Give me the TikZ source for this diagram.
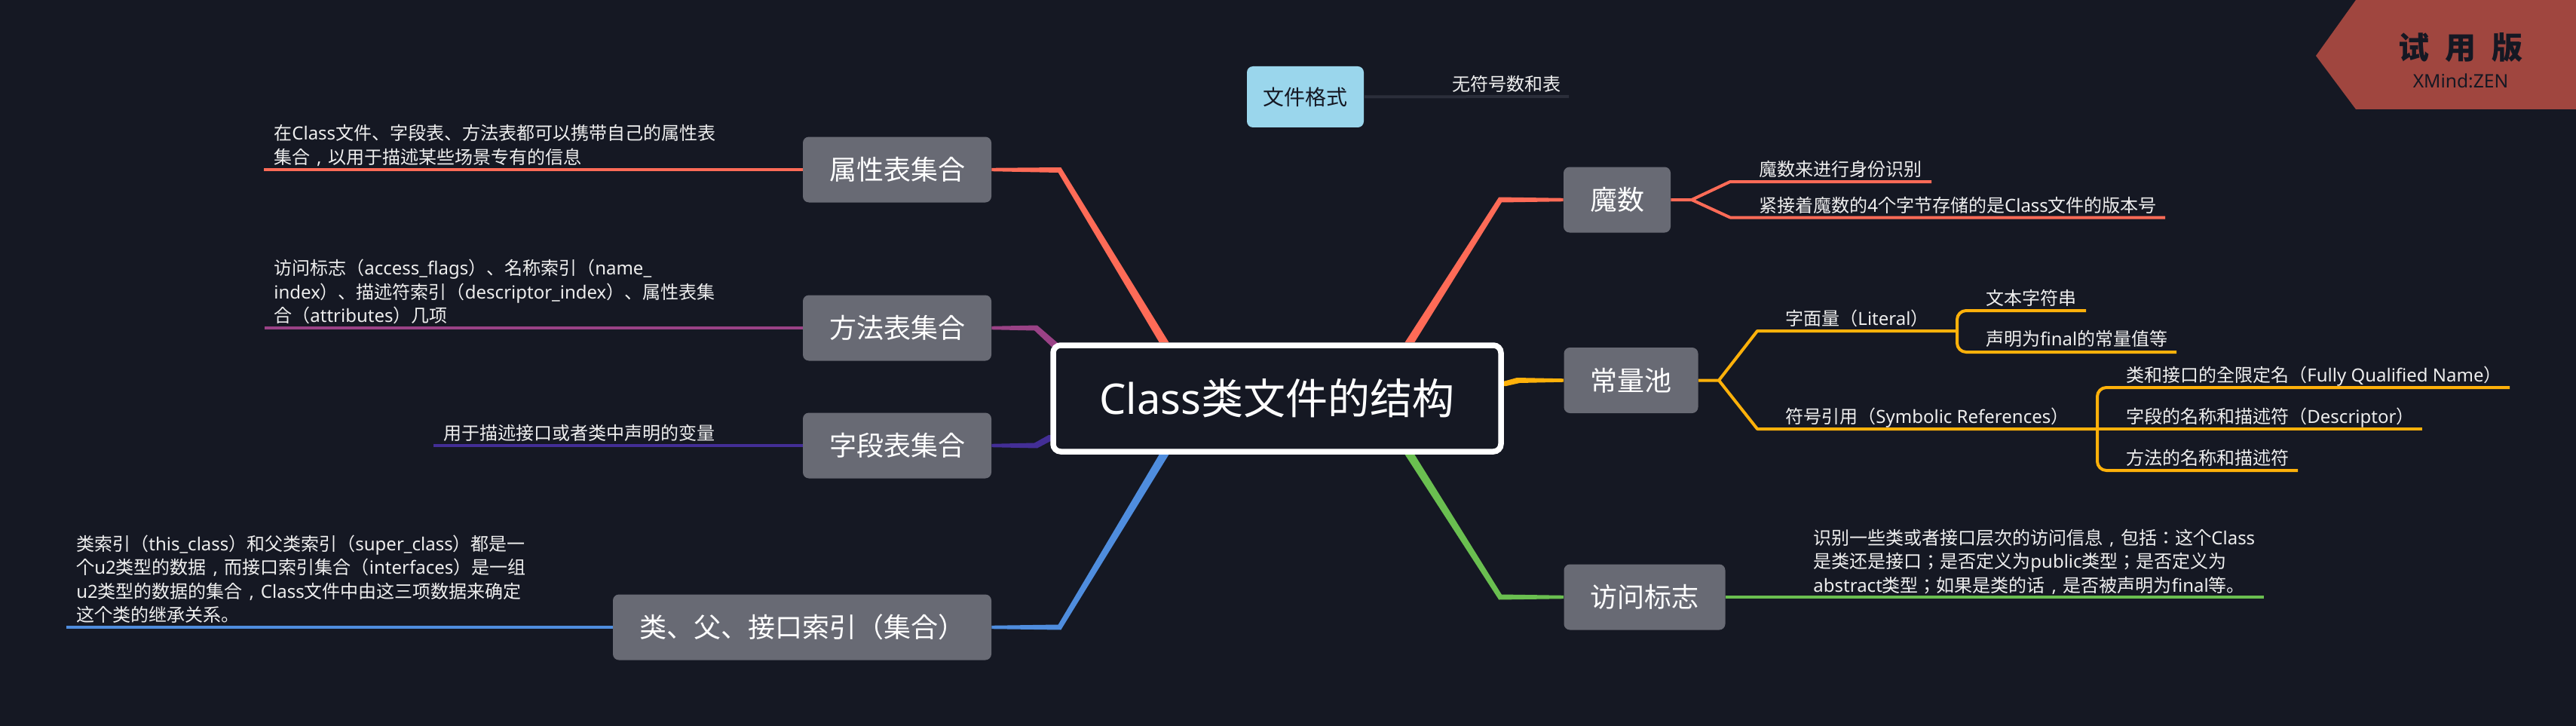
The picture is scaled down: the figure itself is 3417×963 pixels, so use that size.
\documentclass[tikz,border=0pt]{standalone}
\usepackage{fontspec}
\usepackage{xcolor}
\usetikzlibrary{calc}
\setmainfont{Noto Sans CJK KR}
\newfontfamily\latfont{Noto Sans}
\newcommand{\lat}[1]{{\latfont #1}}
% comma in the middle of a full em
\newcommand{\fc}{\makebox[1em][c]{\lat{,}}}
\definecolor{bgcol}{HTML}{151823}
\definecolor{boxcol}{HTML}{686A74}
\definecolor{redcol}{HTML}{FF6B57}
\definecolor{purplecol}{HTML}{9A4286}
\definecolor{indigocol}{HTML}{432E96}
\definecolor{bluecol}{HTML}{4F8DDE}
\definecolor{greencol}{HTML}{6ABF50}
\definecolor{yellowcol}{HTML}{FFB10A}
\definecolor{skycol}{HTML}{9AD6EC}
\definecolor{darkline}{HTML}{2B2E3A}
\definecolor{wmcol}{HTML}{A0463F}
\definecolor{leafcol}{HTML}{EEEEEE}
% tapered main branch: colour, start, knee, end, side, half width
\newcommand{\mainbranch}[6]{\fill[#1] ($(#2)+(-#6,0)$) -- ($(#3)+(-1.8,-#5*3.5)$) -- ($(#4)+(0,-#5*2.2)$) -- ($(#4)+(0,#5*2.2)$) -- ($(#3)+(1.8,#5*3.5)$) -- ($(#2)+(#6,0)$) -- cycle;}
\tikzset{
 topicbox/.style={fill=boxcol,text=white,rounded corners=4pt,inner xsep=17.5pt,inner ysep=0pt,minimum height=43.5pt,font=\fontsize{18}{22}\selectfont},
 leaf/.style={anchor=west,inner sep=0pt,text=leafcol,align=left,font=\fontsize{12}{15.75}\selectfont},
 oneline/.style={leaf,text height=10pt,text depth=1pt},
 wire/.style={line width=2pt,line join=round}
}
\begin{document}
\begin{tikzpicture}[x=0.5pt,y=-0.5pt]
 \fill[bgcol] (0,0) rectangle (3417,963);

 % watermark
 \fill[wmcol] (3072,74) -- (3125,0) -- (3417,0) -- (3417,145) -- (3125,145) -- cycle;
 \node[inner sep=0pt,text=bgcol,font=\fontsize{20.5}{24}\selectfont\bfseries] (wmtitle) at (3264,63) {试\hspace{10.5pt}用\hspace{10.5pt}版};
 \node[inner sep=0pt,text=bgcol,font=\fontsize{12.3}{14}\selectfont\latfont] (wmname) at (3264,107) {XMind:ZEN};

 % second level boxes
 \node[topicbox] (attrbox) at (1190,225) {属性表集合};
 \node[topicbox] (methodbox) at (1190,435) {方法表集合};
 \node[topicbox] (fieldbox) at (1190,591) {字段表集合};
 \node[topicbox] (classbox) at (1064,832) {类、父、接口索引（集合）};
 \node[topicbox] (magicbox) at (2145,265) {魔数};
 \node[topicbox] (constbox) at (2163.5,504.5) {常量池};
 \node[topicbox] (accessbox) at (2181.5,792) {访问标志};
 \node[fill=skycol,text=bgcol,rounded corners=4pt,minimum width=77.5pt,minimum height=40.5pt,inner sep=0pt,font=\fontsize{14}{17}\selectfont] (formatbox) at (1731.5,128.5) {文件格式};

 % branch points
 \coordinate (attrroot) at (1544,454);
 \coordinate (attrknee) at (1405.5,225.5);
 \coordinate (methodroot) at (1402,460);
 \coordinate (methodknee) at (1374,435);
 \coordinate (fieldroot) at (1400,577);
 \coordinate (fieldknee) at (1374,591);
 \coordinate (classroot) at (1544,603);
 \coordinate (classknee) at (1405.5,832);
 \coordinate (magicroot) at (1870,454);
 \coordinate (magicknee) at (1990,265);
 \coordinate (constroot) at (1985,512);
 \coordinate (constknee) at (2014,504.5);
 \coordinate (accessroot) at (1870,603);
 \coordinate (accessknee) at (1990,792);

 \mainbranch{redcol}{attrroot}{attrknee}{attrbox.east}{-1}{6.4}
 \mainbranch{purplecol}{methodroot}{methodknee}{methodbox.east}{-1}{7}
 \mainbranch{indigocol}{fieldroot}{fieldknee}{fieldbox.east}{1}{9}
 \mainbranch{bluecol}{classroot}{classknee}{classbox.east}{1}{6.4}
 \mainbranch{redcol}{magicroot}{magicknee}{magicbox.west}{1}{6.4}
 \mainbranch{yellowcol}{constroot}{constknee}{constbox.west}{1}{13}
 \mainbranch{greencol}{accessroot}{accessknee}{accessbox.west}{-1}{6.4}

 % central topic
 \node[draw=white,line width=3.75pt,fill=bgcol,text=white,rounded corners=5pt,minimum width=297pt,minimum height=70.5pt,inner sep=0pt,font=\fontsize{28}{34}\selectfont] (root) at (1694,528.5) {\lat{Class}类文件的结构};

 % left leaves
 \coordinate (attrend) at (350,225);
 \coordinate (methodend) at (351,435);
 \coordinate (fieldend) at (575,591);
 \coordinate (classend) at (88,832);
 \draw[wire,redcol] (attrbox.west) -- (attrend);
 \draw[wire,purplecol] (methodbox.west) -- (methodend);
 \draw[wire,indigocol] (fieldbox.west) -- (fieldend);
 \draw[wire,bluecol] (classbox.west) -- (classend);
 \node[leaf] (attrtext) at (363,193) {在\lat{Class}文件、字段表、方法表都可以携带自己的属性表\\集合\fc 以用于描述某些场景专有的信息};
 \node[leaf] (methodtext) at (363,387) {访问标志（\lat{access\_flags}）、名称索引（\lat{name\_}\\\lat{index}）、描述符索引（\lat{descriptor\_index}）、属性表集\\合（\lat{attributes}）几项};
 \node[oneline] (fieldtext) at (588,574) {用于描述接口或者类中声明的变量};
 \node[leaf] (classtext) at (101,768) {类索引（\lat{this\_class}）和父类索引（\lat{super\_class}）都是一\\个\lat{u2}类型的数据\fc 而接口索引集合（\lat{interfaces}）是一组\\\lat{u2}类型的数据的集合\fc \lat{Class}文件中由这三项数据来确定\\这个类的继承关系。};

 % file format leaf
 \coordinate (formatend) at (2081,128);
 \draw[wire,darkline] (formatbox.east) -- (formatend);
 \node[oneline] (formattext) at (1926,111) {无符号数和表};

 % magic leaves
 \coordinate (magicfork) at (2244,265);
 \coordinate (idknee) at (2295,241);
 \coordinate (idend) at (2562,241);
 \coordinate (verknee) at (2295,288.5);
 \coordinate (verend) at (2872,288.5);
 \draw[wire,redcol] (magicbox.east) -- (magicfork) -- (idknee) -- (idend);
 \draw[wire,redcol] (magicfork) -- (verknee) -- (verend);
 \node[oneline] (idtext) at (2333,224) {魔数来进行身份识别};
 \node[oneline] (vertext) at (2333,272) {紧接着魔数的\lat{4}个字节存储的是\lat{Class}文件的版本号};

 % constant pool leaves
 \coordinate (constfork) at (2280,504.5);
 \coordinate (litknee) at (2331,439);
 \coordinate (litbar) at (2596,439);
 \coordinate (symknee) at (2331,569);
 \coordinate (symbar) at (2782,569);
 \draw[wire,yellowcol] (constbox.east) -- (constfork) -- (litknee) -- (litbar);
 \draw[wire,yellowcol] (constfork) -- (symknee) -- (symbar);
 \node[oneline] (littext) at (2368,422) {字面量（\lat{Literal}）};
 \node[oneline] (symtext) at (2368,552) {符号引用（\lat{Symbolic References}）};

 \coordinate (strend) at (2767,412);
 \coordinate (finalend) at (2887,467);
 \draw[wire,yellowcol,rounded corners=6pt] (litbar) |- (strend);
 \draw[wire,yellowcol,rounded corners=6pt] (litbar) |- (finalend);
 \node[oneline] (strtext) at (2634,395) {文本字符串};
 \node[oneline] (finaltext) at (2634,449) {声明为\lat{final}的常量值等};

 \coordinate (fullend) at (3329,514);
 \coordinate (descend) at (3213,569);
 \coordinate (mtdend) at (3048,624);
 \draw[wire,yellowcol,rounded corners=6pt] (symbar) |- (fullend);
 \draw[wire,yellowcol] (symbar) -- (descend);
 \draw[wire,yellowcol,rounded corners=6pt] (symbar) |- (mtdend);
 \node[oneline] (fulltext) at (2820,497) {类和接口的全限定名（\lat{Fully Qualified Name}）};
 \node[oneline] (desctext) at (2820,552) {字段的名称和描述符（\lat{Descriptor}）};
 \node[oneline] (mtdtext) at (2820,607) {方法的名称和描述符};

 % access flags leaf
 \coordinate (accessend) at (3003,792);
 \draw[wire,greencol] (accessbox.east) -- (accessend);
 \node[leaf] (accesstext) at (2405,745) {识别一些类或者接口层次的访问信息\fc 包括：这个\lat{Class}\\是类还是接口；是否定义为\lat{public}类型；是否定义为\\\lat{abstract}类型；如果是类的话\fc 是否被声明为\lat{final}等。};
\end{tikzpicture}
\end{document}
